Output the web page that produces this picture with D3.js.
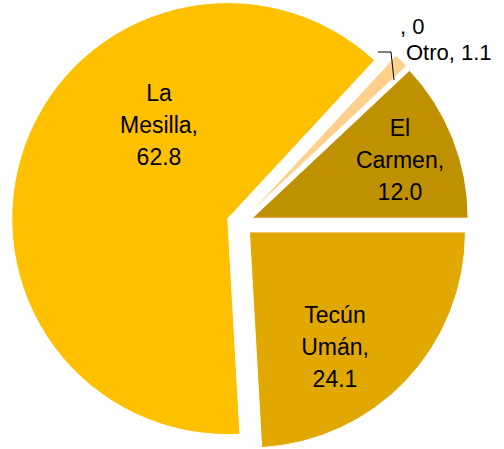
<!DOCTYPE html>
<html>
<head>
<meta charset="utf-8">
<script src="https://cdn.jsdelivr.net/npm/d3@7"></script>
<style>
  body { margin: 0; background: #fff; }
  svg { display: block; }
  text { font-family: "Liberation Sans", Arial, sans-serif; font-size: 23px; fill: #000; }
  text.outside { font-size: 22px; }
</style>
</head>
<body>
<svg id="chart" width="504" height="449"></svg>
<script>
// data, clockwise from the first slice
const categories = ['El Carmen', 'Tecún Umán', 'La Mesilla', 'Otro', ''];
const values = [12.0, 24.1, 62.8, 1.1, 0];
const labelLines = [['El', 'Carmen,', '12.0'], ['Tecún', 'Umán,', '24.1'], ['La', 'Mesilla,', '62.8'], ['Otro, 1.1'], [', 0']];
const colours = ['#BF9000', '#E0A800', '#FFC000', '#FFD08C', '#FFE0B0'];

const width = 504, height = 449;
const cx = 240, cy = 223, radius = 216, explode = 13;
const firstAngle = 46.8 * Math.PI / 180;

// where Excel put each label (centre of text block / start for outside ones)
const labelPlace = [
  {x: 400, y: 160, anchor: 'middle'},
  {x: 335, y: 347, anchor: 'middle'},
  {x: 159, y: 125, anchor: 'middle'},
  {x: 406, y: 60, anchor: 'start'},
  {x: 400, y: 34, anchor: 'start'}
];
const lineHeight = 32;

const svg = d3.select('#chart');
const g = svg.append('g').attr('transform', `translate(${cx},${cy})`);

const pie = d3.pie().sort(null).value(d => d)
  .startAngle(firstAngle).endAngle(firstAngle + 2 * Math.PI);
const arc = d3.arc().innerRadius(0).outerRadius(radius);

const arcs = pie(values);

g.selectAll('path.slice')
  .data(arcs.filter(d => d.data > 0))
  .join('path')
  .attr('class', 'slice')
  .attr('d', arc)
  .attr('fill', d => colours[d.index])
  .attr('stroke', '#fff')
  .attr('stroke-width', 1)
  .attr('transform', d => {
    const mid = (d.startAngle + d.endAngle) / 2;
    return `translate(${Math.sin(mid) * explode},${-Math.cos(mid) * explode})`;
  });

// leader line for the tiny slice
svg.append('polyline')
  .attr('points', [[378, 52], [391, 52], [394, 80]].map(p => p.join(',')).join(' '))
  .attr('fill', 'none')
  .attr('stroke', '#000')
  .attr('stroke-width', 1);

categories.forEach((c, i) => {
  const p = labelPlace[i];
  const lines = labelLines[i];
  const t = svg.append('text')
    .attr('text-anchor', p.anchor)
    .attr('x', p.x);
  if (p.anchor === 'middle') {
    const top = p.y - (lines.length - 1) * lineHeight / 2 + 8;
    lines.forEach((l, k) => {
      t.append('tspan').attr('x', p.x).attr('y', top + k * lineHeight).text(l);
    });
  } else {
    t.attr('class', 'outside').attr('y', p.y).text(lines[0]);
  }
});
</script>
</body>
</html>
